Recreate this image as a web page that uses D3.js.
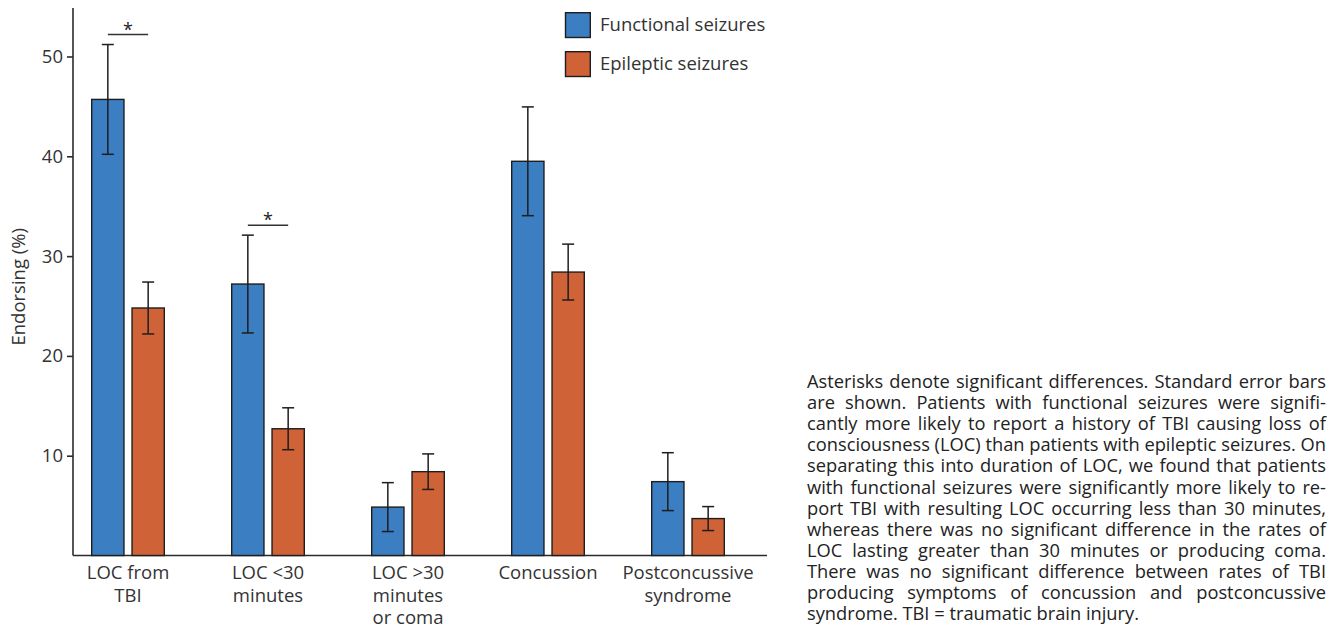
<!DOCTYPE html>
<html>
<head>
<meta charset="utf-8">
<script src="https://cdn.jsdelivr.net/npm/d3@7"></script>
<style>
  html, body { margin: 0; padding: 0; background: #fff; }
  svg { display: block; font-family: "Open Sans", "Noto Sans", sans-serif; }
</style>
</head>
<body>
<svg id="chart" width="1338" height="628"></svg>
<script>
// Categories (multi-line labels) and the two series with standard errors
const categories = ["LOC from\nTBI", "LOC <30\nminutes", "LOC >30\nminutes\nor coma", "Concussion", "Postconcussive\nsyndrome"];
const seriesNames = ["Functional seizures", "Epileptic seizures"];
const functionalValues = [45.7, 27.2, 4.85, 39.5, 7.4];
const functionalSE = [5.5, 4.9, 2.45, 5.45, 2.9];
const epilepticValues = [24.8, 12.7, 8.4, 28.4, 3.7];
const epilepticSE = [2.6, 2.1, 1.78, 2.8, 1.2];
const yTicks = [10, 20, 30, 40, 50];
const significant = [0, 1]; // category indices marked with an asterisk
const yTitle = "Endorsing (%)";
const captionLines = [
  "Asterisks denote significant differences. Standard error bars",
  "are shown. Patients with functional seizures were signifi-",
  "cantly more likely to report a history of TBI causing loss of",
  "consciousness (LOC) than patients with epileptic seizures. On",
  "separating this into duration of LOC, we found that patients",
  "with functional seizures were significantly more likely to re-",
  "port TBI with resulting LOC occurring less than 30 minutes,",
  "whereas there was no significant difference in the rates of",
  "LOC lasting greater than 30 minutes or producing coma.",
  "There was no significant difference between rates of TBI",
  "producing symptoms of concussion and postconcussive",
  "syndrome. TBI = traumatic brain injury."
];

const colors = ["#3b7ec2", "#d06237"];
const ink = "#2b2b2b";

const svg = d3.select("#chart");

const plot = { left: 73, right: 767, top: 8, bottom: 555.5 };

const y = d3.scaleLinear().domain([0, 55]).range([plot.bottom, plot.bottom - 55 * 9.98]);

const x = d3.scaleBand().domain(d3.range(categories.length)).range([58, 758]).padding(0);
const xs = d3.scaleBand().domain([0, 1]).range([33.7, 106.3]).paddingInner(0.2);

const rows = categories.map((c, i) => ({
  i,
  vals: [
    { s: 0, v: functionalValues[i], se: functionalSE[i] },
    { s: 1, v: epilepticValues[i], se: epilepticSE[i] }
  ]
}));

// Y axis
const yAxis = svg.append("g")
  .attr("transform", `translate(${plot.left},0)`)
  .call(d3.axisLeft(y).tickValues(yTicks).tickSize(6).tickPadding(4).tickSizeOuter(0));
yAxis.select(".domain").remove();
yAxis.append("line").attr("x1", 0).attr("x2", 0)
  .attr("y1", plot.top).attr("y2", plot.bottom)
  .attr("stroke", ink).attr("stroke-width", 1.6);
yAxis.selectAll(".tick line").attr("stroke", ink).attr("stroke-width", 1.6);
yAxis.selectAll(".tick text")
  .attr("fill", "#333").attr("font-size", 18.5)
  .attr("font-family", "'Open Sans', sans-serif");

// X axis baseline
svg.append("line")
  .attr("x1", plot.left).attr("x2", plot.right)
  .attr("y1", plot.bottom).attr("y2", plot.bottom)
  .attr("stroke", ink).attr("stroke-width", 1.6);

// Y axis title
svg.append("text")
  .attr("transform", `translate(25,${(plot.top + plot.bottom) / 2 + 5}) rotate(-90)`)
  .attr("text-anchor", "middle")
  .attr("font-size", 18.5)
  .attr("fill", "#333")
  .text(yTitle);

// Bars
const groups = svg.append("g").selectAll("g").data(rows).join("g")
  .attr("transform", d => `translate(${x(d.i)},0)`);

groups.selectAll("rect").data(d => d.vals).join("rect")
  .attr("x", d => xs(d.s))
  .attr("width", xs.bandwidth())
  .attr("y", d => y(d.v))
  .attr("height", d => y(0) - y(d.v))
  .attr("fill", d => colors[d.s])
  .attr("stroke", "#1e1e1e")
  .attr("stroke-width", 1.4);

// Error bars
const capW = 6;
const eb = groups.selectAll("g.err").data(d => d.vals).join("g").attr("class", "err")
  .attr("transform", d => `translate(${xs(d.s) + xs.bandwidth() / 2},0)`)
  .attr("stroke", "#1e1e1e").attr("stroke-width", 1.5);
eb.append("line").attr("x1", 0).attr("x2", 0)
  .attr("y1", d => y(d.v + d.se)).attr("y2", d => y(d.v - d.se));
eb.append("line").attr("x1", -capW).attr("x2", capW)
  .attr("y1", d => y(d.v + d.se)).attr("y2", d => y(d.v + d.se));
eb.append("line").attr("x1", -capW).attr("x2", capW)
  .attr("y1", d => y(d.v - d.se)).attr("y2", d => y(d.v - d.se));

// Significance markers
significant.forEach(i => {
  const top = functionalValues[i] + functionalSE[i] + 1;
  const x0 = x(i) + xs(0) + xs.bandwidth() / 2;
  const x1 = x(i) + xs(1) + xs.bandwidth() / 2;
  svg.append("line").attr("x1", x0).attr("x2", x1)
    .attr("y1", y(top)).attr("y2", y(top))
    .attr("stroke", "#333").attr("stroke-width", 1.5);
  svg.append("text").attr("x", (x0 + x1) / 2).attr("y", y(top) + 1)
    .attr("text-anchor", "middle").attr("font-size", 18).attr("fill", "#222")
    .text("*");
});

// Category labels
const xl = svg.append("g").selectAll("text").data(categories).join("text")
  .attr("text-anchor", "middle")
  .attr("font-size", 18.5)
  .attr("fill", "#333")
  .attr("x", (d, i) => x(i) + x.bandwidth() / 2)
  .attr("y", 579);
xl.selectAll("tspan").data(d => d.split("\n")).join("tspan")
  .attr("x", function () { return this.parentNode.getAttribute("x"); })
  .attr("dy", (d, j) => j === 0 ? 0 : 22.6)
  .text(d => d);

// Legend
const legend = svg.append("g").attr("transform", "translate(565.5,12.7)");
seriesNames.forEach((name, k) => {
  const g = legend.append("g").attr("transform", `translate(0,${k * 39})`);
  g.append("rect").attr("width", 24.8).attr("height", 24.8)
    .attr("fill", colors[k]).attr("stroke", "#1e1e1e").attr("stroke-width", 1.4);
  g.append("text").attr("x", 34.5).attr("y", 18.5)
    .attr("font-size", 18.5).attr("fill", "#333").text(name);
});

// Caption: one text per line, words as tspans spread to a justified block;
// the last line keeps normal word spacing
const cap = { left: 807, right: 1326, top: 388, lh: 21.1, size: 18.3 };
const capG = svg.append("g").attr("font-size", cap.size).attr("fill", "#222");
const probe = capG.append("text").attr("x", -1000).attr("y", -1000);
const measure = w => probe.text(w).node().getComputedTextLength();
captionLines.forEach((line, li) => {
  const words = line.split(" ");
  const widths = words.map(measure);
  const total = d3.sum(widths);
  const last = li === captionLines.length - 1;
  const spaceW = last ? measure("a b") - measure("ab") : (cap.right - cap.left - total) / (words.length - 1);
  const xsPos = [];
  let cx = cap.left;
  widths.forEach(w => { xsPos.push(cx); cx += w + spaceW; });
  const t = capG.append("text").attr("y", cap.top + li * cap.lh);
  t.selectAll("tspan").data(words).join("tspan")
    .attr("x", (d, k) => xsPos[k])
    .text(d => d);
});
probe.remove();
</script>
</body>
</html>
